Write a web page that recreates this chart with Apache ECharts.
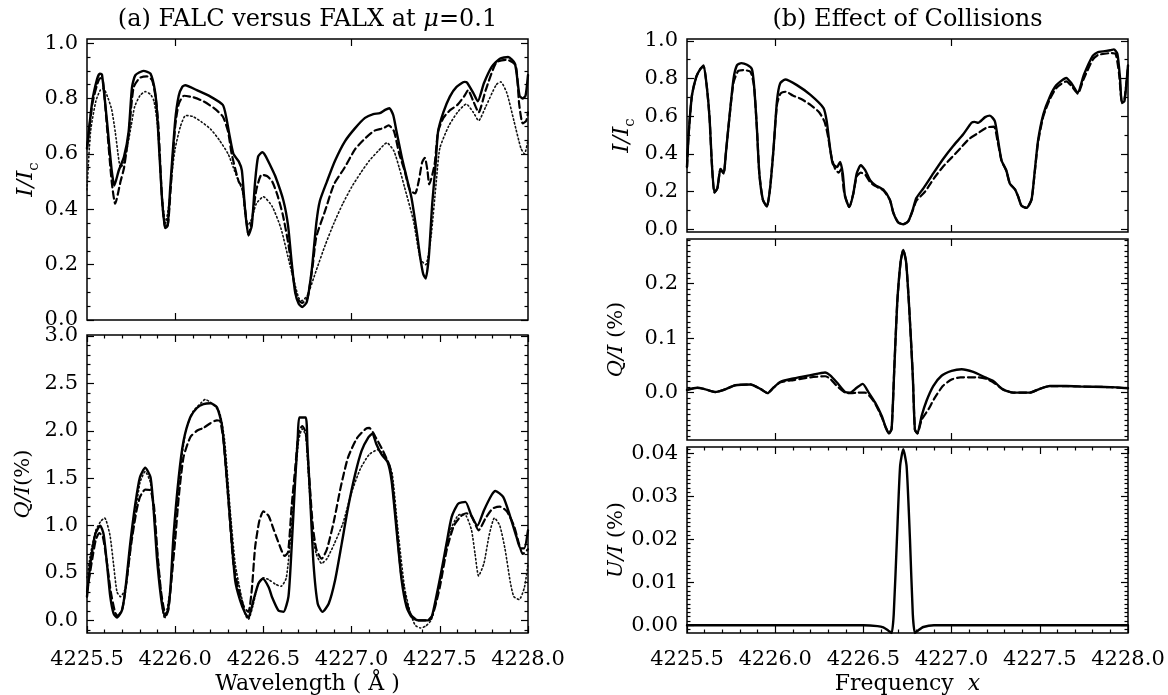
<!DOCTYPE html>
<html><head><meta charset="utf-8">
<script src="https://cdn.jsdelivr.net/npm/echarts@6/dist/echarts.min.js"></script>
<style>html,body{margin:0;padding:0;background:#fff}#c{width:1168px;height:695px}</style>
</head><body><div id="c"></div>
<script>
// ---------------- DATA ----------------
// x tick labels (wavelength, Å)
const xTickLabels = [4225.5, 4226.0, 4226.5, 4227.0, 4227.5, 4228.0];
const xTickSparse = [4226.0, 4227.0];
// y tick labels per panel
const yTicksIa = [0.0, 0.2, 0.4, 0.6, 0.8, 1.0];
const yTicksQa = [0.0, 0.5, 1.0, 1.5, 2.0, 2.5, 3.0];
const yTicksIb = [0.0, 0.2, 0.4, 0.6, 0.8, 1.0];
const yTicksQb = [0.0, 0.1, 0.2];
const yTicksUb = [0.00, 0.01, 0.02, 0.03, 0.04];

// (a) I/Ic : FALC (solid), FALX (dashed), third model (dotted)
const aI_solid = [[4225.50,0.62],[4225.53,0.79],[4225.557,0.87],[4225.572,0.89],[4225.585,0.886],[4225.613,0.72],[4225.64,0.54],[4225.655,0.486],[4225.68,0.54],[4225.71,0.59],[4225.736,0.68],[4225.755,0.84],[4225.774,0.884],[4225.82,0.90],[4225.86,0.89],[4225.887,0.82],[4225.90,0.72],[4225.925,0.44],[4225.943,0.332],[4225.957,0.34],[4225.972,0.48],[4226.0,0.72],[4226.02,0.81],[4226.04,0.842],[4226.057,0.848],[4226.123,0.83],[4226.20,0.807],[4226.27,0.777],[4226.29,0.73],[4226.31,0.66],[4226.33,0.60],[4226.36,0.573],[4226.378,0.54],[4226.396,0.40],[4226.415,0.305],[4226.434,0.34],[4226.453,0.50],[4226.47,0.59],[4226.494,0.606],[4226.51,0.595],[4226.538,0.56],[4226.567,0.52],[4226.614,0.43],[4226.64,0.34],[4226.66,0.21],[4226.68,0.10],[4226.70,0.059],[4226.72,0.047],[4226.746,0.065],[4226.774,0.18],[4226.80,0.35],[4226.82,0.43],[4226.86,0.50],[4226.906,0.575],[4226.963,0.646],[4227.02,0.693],[4227.076,0.73],[4227.123,0.744],[4227.16,0.747],[4227.19,0.759],[4227.214,0.765],[4227.236,0.74],[4227.255,0.68],[4227.284,0.59],[4227.31,0.52],[4227.34,0.44],[4227.37,0.315],[4227.388,0.23],[4227.406,0.166],[4227.42,0.15],[4227.438,0.23],[4227.457,0.42],[4227.476,0.56],[4227.49,0.68],[4227.52,0.75],[4227.557,0.807],[4227.595,0.842],[4227.64,0.86],[4227.654,0.858],[4227.69,0.82],[4227.715,0.79],[4227.75,0.855],[4227.795,0.915],[4227.84,0.944],[4227.887,0.95],[4227.926,0.926],[4227.952,0.81],[4227.97,0.80],[4227.986,0.81],[4228.0,0.885]];
const aI_dash = [[4225.5,0.62],[4225.53,0.78],[4225.557,0.85],[4225.575,0.874],[4225.59,0.865],[4225.613,0.70],[4225.64,0.50],[4225.66,0.42],[4225.69,0.50],[4225.71,0.55],[4225.736,0.67],[4225.764,0.84],[4225.80,0.875],[4225.84,0.88],[4225.87,0.865],[4225.89,0.80],[4225.905,0.70],[4225.925,0.44],[4225.945,0.33],[4225.96,0.35],[4225.975,0.48],[4226.0,0.70],[4226.02,0.78],[4226.05,0.81],[4226.10,0.805],[4226.16,0.79],[4226.22,0.765],[4226.27,0.735],[4226.30,0.68],[4226.32,0.60],[4226.36,0.50],[4226.38,0.48],[4226.40,0.38],[4226.415,0.31],[4226.435,0.36],[4226.46,0.47],[4226.49,0.525],[4226.52,0.52],[4226.55,0.50],[4226.58,0.45],[4226.61,0.38],[4226.64,0.28],[4226.67,0.15],[4226.69,0.08],[4226.72,0.062],[4226.75,0.08],[4226.78,0.20],[4226.80,0.30],[4226.85,0.395],[4226.90,0.49],[4226.96,0.55],[4227.02,0.617],[4227.08,0.658],[4227.13,0.684],[4227.18,0.693],[4227.21,0.703],[4227.24,0.682],[4227.27,0.60],[4227.30,0.54],[4227.33,0.47],[4227.36,0.457],[4227.38,0.50],[4227.40,0.57],[4227.415,0.586],[4227.43,0.54],[4227.44,0.49],[4227.47,0.56],[4227.49,0.68],[4227.52,0.73],[4227.56,0.759],[4227.60,0.777],[4227.64,0.81],[4227.66,0.83],[4227.69,0.79],[4227.72,0.75],[4227.76,0.83],[4227.82,0.93],[4227.88,0.94],[4227.93,0.92],[4227.95,0.78],[4227.97,0.71],[4227.99,0.72],[4228.0,0.75]];
const aI_dot = [[4225.5,0.47],[4225.52,0.68],[4225.55,0.79],[4225.575,0.83],[4225.594,0.836],[4225.62,0.80],[4225.64,0.76],[4225.66,0.68],[4225.68,0.58],[4225.69,0.55],[4225.71,0.57],[4225.73,0.63],[4225.75,0.70],[4225.77,0.77],[4225.80,0.81],[4225.83,0.825],[4225.86,0.815],[4225.88,0.79],[4225.90,0.70],[4225.925,0.45],[4225.945,0.35],[4225.965,0.42],[4225.985,0.55],[4226.0,0.62],[4226.03,0.70],[4226.06,0.739],[4226.10,0.735],[4226.15,0.715],[4226.20,0.69],[4226.25,0.65],[4226.30,0.60],[4226.33,0.55],[4226.36,0.50],[4226.38,0.47],[4226.41,0.34],[4226.43,0.36],[4226.46,0.42],[4226.50,0.445],[4226.55,0.41],[4226.60,0.33],[4226.65,0.20],[4226.70,0.08],[4226.72,0.07],[4226.75,0.09],[4226.80,0.18],[4226.85,0.27],[4226.90,0.35],[4226.95,0.42],[4227.0,0.48],[4227.05,0.53],[4227.10,0.575],[4227.15,0.61],[4227.20,0.64],[4227.24,0.61],[4227.27,0.55],[4227.30,0.48],[4227.35,0.36],[4227.39,0.22],[4227.42,0.20],[4227.45,0.30],[4227.48,0.50],[4227.50,0.62],[4227.55,0.70],[4227.60,0.75],[4227.65,0.78],[4227.69,0.75],[4227.72,0.72],[4227.76,0.77],[4227.82,0.85],[4227.845,0.86],[4227.88,0.82],[4227.92,0.72],[4227.96,0.62],[4227.98,0.60],[4228.0,0.65]];

// (a) Q/I (%)
const aQ_solid = [[4225.5,0.25],[4225.519,0.6],[4225.547,0.91],[4225.575,1.0],[4225.594,0.91],[4225.613,0.6],[4225.632,0.25],[4225.651,0.07],[4225.67,0.03],[4225.698,0.105],[4225.717,0.32],[4225.745,0.81],[4225.774,1.23],[4225.80,1.51],[4225.83,1.61],[4225.86,1.51],[4225.877,1.19],[4225.896,0.67],[4225.919,0.25],[4225.938,0.06],[4225.953,0.06],[4225.972,0.32],[4225.99,0.88],[4226.02,1.51],[4226.047,1.89],[4226.085,2.14],[4226.123,2.24],[4226.16,2.28],[4226.20,2.29],[4226.236,2.25],[4226.264,2.07],[4226.283,1.72],[4226.31,1.09],[4226.34,0.42],[4226.368,0.21],[4226.396,0.077],[4226.415,0.03],[4226.443,0.21],[4226.472,0.39],[4226.496,0.44],[4226.53,0.35],[4226.548,0.25],[4226.585,0.105],[4226.614,0.09],[4226.642,0.25],[4226.66,0.77],[4226.68,1.47],[4226.695,1.93],[4226.704,2.14],[4226.74,2.14],[4226.75,1.82],[4226.765,1.3],[4226.784,0.6],[4226.808,0.175],[4226.835,0.09],[4226.87,0.175],[4226.906,0.42],[4226.944,0.81],[4226.98,1.19],[4227.02,1.54],[4227.057,1.79],[4227.095,1.93],[4227.118,1.97],[4227.14,1.86],[4227.17,1.75],[4227.204,1.67],[4227.227,1.47],[4227.255,0.95],[4227.284,0.42],[4227.312,0.14],[4227.34,0.035],[4227.378,0.0],[4227.435,0.0],[4227.454,0.035],[4227.48,0.25],[4227.51,0.53],[4227.538,0.81],[4227.567,1.09],[4227.604,1.23],[4227.645,1.25],[4227.68,1.1],[4227.713,1.0],[4227.75,1.16],[4227.793,1.32],[4227.815,1.365],[4227.86,1.3],[4227.90,1.09],[4227.935,0.88],[4227.957,0.76],[4227.978,0.76],[4228.0,0.95]];
const aQ_dash = [[4225.5,0.3],[4225.53,0.65],[4225.55,0.85],[4225.57,0.92],[4225.59,0.88],[4225.61,0.65],[4225.635,0.3],[4225.66,0.08],[4225.675,0.05],[4225.70,0.12],[4225.72,0.35],[4225.75,0.8],[4225.78,1.15],[4225.80,1.3],[4225.83,1.38],[4225.86,1.37],[4225.88,1.2],[4225.90,0.7],[4225.92,0.3],[4225.945,0.07],[4225.96,0.1],[4225.975,0.35],[4226.0,0.85],[4226.02,1.3],[4226.047,1.72],[4226.085,1.93],[4226.123,2.0],[4226.16,2.03],[4226.20,2.08],[4226.236,2.11],[4226.255,2.1],[4226.274,1.89],[4226.30,1.3],[4226.33,0.6],[4226.36,0.32],[4226.39,0.14],[4226.415,0.09],[4226.434,0.32],[4226.453,0.77],[4226.477,1.05],[4226.50,1.15],[4226.53,1.1],[4226.56,0.95],[4226.60,0.75],[4226.62,0.68],[4226.64,0.72],[4226.66,1.2],[4226.68,1.6],[4226.70,1.98],[4226.72,2.05],[4226.74,1.98],[4226.76,1.5],[4226.78,1.0],[4226.80,0.75],[4226.83,0.65],[4226.86,0.75],[4226.90,1.05],[4226.94,1.42],[4226.98,1.72],[4227.03,1.92],[4227.08,2.02],[4227.10,2.03],[4227.14,1.92],[4227.18,1.78],[4227.22,1.6],[4227.25,1.1],[4227.28,0.5],[4227.31,0.2],[4227.34,0.05],[4227.38,0.0],[4227.43,0.0],[4227.46,0.06],[4227.50,0.35],[4227.54,0.75],[4227.58,1.0],[4227.62,1.1],[4227.65,1.13],[4227.68,1.1],[4227.72,0.95],[4227.76,1.08],[4227.80,1.18],[4227.84,1.2],[4227.88,1.15],[4227.92,1.0],[4227.95,0.8],[4227.97,0.7],[4228.0,0.75]];
const aQ_dot = [[4225.5,0.45],[4225.52,0.7],[4225.55,0.95],[4225.58,1.05],[4225.60,1.08],[4225.63,0.9],[4225.65,0.6],[4225.67,0.3],[4225.69,0.25],[4225.72,0.35],[4225.75,0.8],[4225.80,1.45],[4225.83,1.57],[4225.86,1.45],[4225.90,0.7],[4225.93,0.1],[4225.94,0.02],[4225.97,0.3],[4226.0,1.0],[4226.03,1.6],[4226.06,2.0],[4226.10,2.2],[4226.15,2.3],[4226.17,2.33],[4226.20,2.3],[4226.25,2.2],[4226.28,1.9],[4226.31,1.2],[4226.34,0.6],[4226.37,0.3],[4226.40,0.05],[4226.415,0.01],[4226.44,0.15],[4226.47,0.38],[4226.50,0.45],[4226.53,0.43],[4226.57,0.38],[4226.60,0.36],[4226.63,0.45],[4226.66,1.0],[4226.68,1.5],[4226.70,1.9],[4226.72,2.02],[4226.74,1.95],[4226.76,1.4],[4226.78,0.9],[4226.80,0.7],[4226.83,0.6],[4226.86,0.65],[4226.90,0.8],[4226.95,1.02],[4227.0,1.35],[4227.05,1.6],[4227.10,1.75],[4227.15,1.8],[4227.20,1.7],[4227.23,1.55],[4227.26,1.0],[4227.30,0.35],[4227.33,0.1],[4227.36,-0.05],[4227.39,-0.08],[4227.42,-0.06],[4227.45,0.0],[4227.48,0.2],[4227.52,0.6],[4227.56,0.95],[4227.60,1.1],[4227.62,1.12],[4227.65,1.1],[4227.68,0.95],[4227.70,0.7],[4227.72,0.47],[4227.75,0.6],[4227.78,0.9],[4227.81,1.08],[4227.84,1.0],[4227.87,0.75],[4227.90,0.4],[4227.92,0.25],[4227.95,0.22],[4227.98,0.35],[4228.0,0.6]];

// (b) I/Ic : with collisions (solid), without (dashed)
const bI_solid = [[4225.5,0.33],[4225.509,0.5],[4225.528,0.71],[4225.553,0.81],[4225.575,0.85],[4225.594,0.87],[4225.613,0.75],[4225.628,0.59],[4225.64,0.365],[4225.655,0.195],[4225.672,0.217],[4225.69,0.32],[4225.708,0.296],[4225.72,0.4],[4225.74,0.59],[4225.764,0.8],[4225.783,0.87],[4225.808,0.882],[4225.84,0.873],[4225.868,0.85],[4225.88,0.765],[4225.896,0.54],[4225.91,0.296],[4225.93,0.157],[4225.953,0.12],[4225.97,0.21],[4225.99,0.42],[4226.01,0.68],[4226.028,0.774],[4226.057,0.795],[4226.123,0.765],[4226.20,0.713],[4226.274,0.643],[4226.292,0.574],[4226.308,0.452],[4226.326,0.348],[4226.35,0.33],[4226.368,0.357],[4226.383,0.296],[4226.396,0.174],[4226.42,0.118],[4226.443,0.19],[4226.462,0.296],[4226.485,0.34],[4226.51,0.313],[4226.538,0.26],[4226.566,0.235],[4226.613,0.21],[4226.65,0.157],[4226.67,0.087],[4226.698,0.035],[4226.726,0.026],[4226.755,0.043],[4226.78,0.104],[4226.80,0.165],[4226.84,0.217],[4226.896,0.296],[4226.953,0.374],[4227.01,0.443],[4227.066,0.504],[4227.113,0.565],[4227.13,0.57],[4227.15,0.565],[4227.19,0.595],[4227.217,0.603],[4227.245,0.574],[4227.264,0.47],[4227.283,0.365],[4227.31,0.313],[4227.33,0.243],[4227.36,0.21],[4227.377,0.174],[4227.396,0.125],[4227.425,0.113],[4227.453,0.157],[4227.47,0.296],[4227.49,0.47],[4227.52,0.61],[4227.557,0.704],[4227.594,0.765],[4227.65,0.803],[4227.68,0.774],[4227.715,0.725],[4227.75,0.82],[4227.80,0.92],[4227.83,0.94],[4227.90,0.95],[4227.92,0.955],[4227.94,0.93],[4227.955,0.80],[4227.965,0.67],[4227.98,0.68],[4228.0,0.87]];
const bI_dash = [[4225.5,0.33],[4225.509,0.5],[4225.528,0.71],[4225.553,0.81],[4225.575,0.85],[4225.594,0.865],[4225.613,0.75],[4225.628,0.59],[4225.64,0.365],[4225.655,0.195],[4225.672,0.217],[4225.69,0.32],[4225.708,0.296],[4225.72,0.4],[4225.74,0.59],[4225.764,0.78],[4225.79,0.84],[4225.82,0.845],[4225.86,0.835],[4225.88,0.76],[4225.896,0.54],[4225.91,0.296],[4225.93,0.157],[4225.953,0.12],[4225.97,0.21],[4225.99,0.42],[4226.01,0.66],[4226.03,0.72],[4226.06,0.73],[4226.10,0.71],[4226.15,0.69],[4226.20,0.66],[4226.25,0.62],[4226.28,0.57],[4226.30,0.49],[4226.32,0.38],[4226.34,0.32],[4226.36,0.30],[4226.375,0.32],[4226.39,0.2],[4226.42,0.118],[4226.443,0.19],[4226.462,0.28],[4226.485,0.30],[4226.51,0.29],[4226.538,0.25],[4226.566,0.23],[4226.613,0.205],[4226.65,0.155],[4226.67,0.087],[4226.698,0.035],[4226.726,0.026],[4226.755,0.043],[4226.78,0.1],[4226.80,0.15],[4226.85,0.2],[4226.90,0.27],[4226.95,0.33],[4227.0,0.38],[4227.05,0.43],[4227.10,0.48],[4227.15,0.51],[4227.20,0.54],[4227.24,0.545],[4227.26,0.47],[4227.283,0.365],[4227.31,0.31],[4227.33,0.243],[4227.36,0.21],[4227.377,0.174],[4227.396,0.125],[4227.425,0.113],[4227.453,0.157],[4227.47,0.29],[4227.49,0.46],[4227.52,0.60],[4227.557,0.69],[4227.594,0.75],[4227.65,0.785],[4227.68,0.76],[4227.715,0.72],[4227.75,0.80],[4227.80,0.90],[4227.83,0.925],[4227.90,0.935],[4227.93,0.93],[4227.95,0.82],[4227.965,0.68],[4227.98,0.69],[4228.0,0.86]];

// (b) Q/I (%)
const bQ_solid = [[4225.5,0.005],[4225.557,0.009],[4225.594,0.007],[4225.66,0.001],[4225.708,0.005],[4225.774,0.0135],[4225.86,0.015],[4225.915,0.007],[4225.957,-0.001],[4225.99,0.009],[4226.03,0.02],[4226.104,0.026],[4226.2,0.032],[4226.283,0.037],[4226.31,0.032],[4226.35,0.0185],[4226.396,0.001],[4226.425,0.0],[4226.462,0.009],[4226.496,0.016],[4226.53,0.0],[4226.566,-0.018],[4226.604,-0.043],[4226.628,-0.065],[4226.645,-0.075],[4226.66,-0.066],[4226.675,0.043],[4226.692,0.166],[4226.711,0.24],[4226.726,0.262],[4226.742,0.24],[4226.76,0.154],[4226.78,0.031],[4226.792,-0.068],[4226.806,-0.075],[4226.83,-0.043],[4226.858,-0.015],[4226.896,0.012],[4226.943,0.031],[4227.0,0.04],[4227.057,0.043],[4227.123,0.038],[4227.19,0.028],[4227.236,0.0215],[4227.29,0.006],[4227.35,0.0],[4227.443,0.0],[4227.5,0.007],[4227.557,0.012],[4227.65,0.012],[4227.75,0.011],[4227.9,0.01],[4228.0,0.008]];
const bQ_dash = [[4225.5,0.005],[4225.557,0.009],[4225.594,0.007],[4225.66,0.001],[4225.708,0.005],[4225.774,0.0135],[4225.86,0.015],[4225.915,0.007],[4225.957,-0.001],[4225.99,0.009],[4226.03,0.019],[4226.104,0.023],[4226.2,0.028],[4226.283,0.03],[4226.31,0.026],[4226.35,0.012],[4226.396,0.0],[4226.43,-0.001],[4226.47,0.0],[4226.51,0.0],[4226.54,-0.008],[4226.57,-0.022],[4226.604,-0.045],[4226.628,-0.065],[4226.645,-0.075],[4226.66,-0.066],[4226.675,0.043],[4226.692,0.166],[4226.711,0.24],[4226.726,0.262],[4226.742,0.24],[4226.76,0.154],[4226.78,0.031],[4226.792,-0.068],[4226.806,-0.075],[4226.83,-0.05],[4226.87,-0.03],[4226.9,-0.012],[4226.95,0.012],[4227.0,0.024],[4227.05,0.028],[4227.15,0.028],[4227.2,0.025],[4227.24,0.018],[4227.29,0.006],[4227.35,0.0],[4227.443,0.0],[4227.5,0.007],[4227.557,0.012],[4227.65,0.012],[4227.75,0.011],[4227.9,0.01],[4228.0,0.008]];

// (b) U/I (%)
const bU_solid = [[4225.5,0.0],[4226.0,0.0],[4226.5,0.0],[4226.58,-0.0002],[4226.613,-0.0005],[4226.64,-0.0012],[4226.66,-0.0018],[4226.672,0.0026],[4226.69,0.02],[4226.708,0.037],[4226.726,0.041],[4226.745,0.037],[4226.764,0.02],[4226.78,0.0026],[4226.792,-0.0018],[4226.81,-0.0012],[4226.84,-0.0004],[4226.9,0.0],[4227.5,0.0],[4228.0,0.0]];

// ---------------- LAYOUT / STYLE ----------------
const FONT = 'DejaVu Serif';
const XMIN = 4225.5, XMAX = 4228.0;
function steps(a, b, s) {
  const r = [];
  for (let k = Math.round(a / s); k * s <= b + 1e-9; k++) r.push(+(k * s).toFixed(6));
  return r;
}
function minorOf(major, a, b, s) {
  return steps(a, b, s).filter(v => !major.some(m => Math.abs(m - v) < 1e-9));
}
const SOLID = {color:'#000', width:2.4, type:'solid'};
const DASH  = {color:'#000', width:2.2, type:[7,4]};
const DOT   = {color:'#111', width:1.6, type:[1.4,2.6]};

const panels = [
  {rect:[87,39,441,281], y:[0,1.015], yMajor:yTicksIa, yMinor:minorOf(yTicksIa,0,1,0.05), dec:1,
   xMajor:xTickSparse, xMinor:[], xLab:false,
   series:[[aI_dot,DOT],[aI_dash,DASH],[aI_solid,SOLID]]},
  {rect:[87,335,441,298], y:[-0.133,3.01], yMajor:yTicksQa, yMinor:minorOf(yTicksQa,-0.1,3.0,0.1), dec:1,
   xMajor:xTickLabels, xMinor:minorOf(xTickLabels,XMIN,XMAX,0.1), xLab:true,
   series:[[aQ_dot,DOT],[aQ_dash,DASH],[aQ_solid,SOLID]]},
  {rect:[687,39,441,193], y:[-0.015,1.01], yMajor:yTicksIb, yMinor:minorOf(yTicksIb,0,1,0.1), dec:1,
   xMajor:xTickSparse, xMinor:[], xLab:false,
   series:[[bI_dash,DASH],[bI_solid,SOLID]]},
  {rect:[687,239,441,201], y:[-0.087,0.282], yMajor:yTicksQb, yMinor:minorOf(yTicksQb,-0.08,0.28,0.01), dec:1,
   xMajor:xTickSparse, xMinor:[], xLab:false,
   series:[[bQ_dash,DASH],[bQ_solid,SOLID]]},
  {rect:[687,447,441,186], y:[-0.0018,0.0415], yMajor:yTicksUb, yMinor:minorOf(yTicksUb,-0.001,0.041,0.001), dec:2,
   xMajor:xTickLabels, xMinor:minorOf(xTickLabels,XMIN,XMAX,0.1), xLab:true,
   series:[[bU_solid,SOLID]]}
];

const grid = [], xAxis = [], yAxis = [], series = [];
const tickLine = {color:'#000', width:1.2};
const LABEL_SIZE = 21;
panels.forEach((p, i) => {
  const [l, t, w, h] = p.rect;
  grid.push({left:l, top:t, width:w, height:h, show:true, borderColor:'#000', borderWidth:1.5, backgroundColor:'transparent'});
  grid.push({left:l, top:t, width:w, height:h, show:false});
  const gMaj = 2 * i, gMin = 2 * i + 1;
  const xBase = {type:'value', min:XMIN, max:XMAX, axisLine:{show:false, onZero:false}, splitLine:{show:false}};
  const yBase = {type:'value', min:p.y[0], max:p.y[1], axisLine:{show:false, onZero:false}, splitLine:{show:false}};
  const xMin = p.xMinor.length ? p.xMinor : [XMIN];
  xAxis.push(Object.assign({}, xBase, {gridIndex:gMaj, position:'bottom',
    axisTick:{show:true, inside:true, length:7, customValues:p.xMajor, lineStyle:tickLine},
    axisLabel:{show:p.xLab, customValues:xTickLabels, formatter:v => v.toFixed(1), margin:16,
      fontFamily:FONT, fontSize:LABEL_SIZE, color:'#000'}}));
  xAxis.push(Object.assign({}, xBase, {gridIndex:gMaj, position:'top',
    axisTick:{show:true, inside:true, length:7, customValues:p.xMajor, lineStyle:tickLine},
    axisLabel:{show:false}}));
  xAxis.push(Object.assign({}, xBase, {gridIndex:gMin, position:'bottom',
    axisTick:{show:p.xMinor.length > 0, inside:true, length:3.5, customValues:xMin, lineStyle:tickLine},
    axisLabel:{show:false}}));
  xAxis.push(Object.assign({}, xBase, {gridIndex:gMin, position:'top',
    axisTick:{show:p.xMinor.length > 0, inside:true, length:3.5, customValues:xMin, lineStyle:tickLine},
    axisLabel:{show:false}}));
  yAxis.push(Object.assign({}, yBase, {gridIndex:gMaj, position:'left',
    axisTick:{show:true, inside:true, length:7, customValues:p.yMajor, lineStyle:tickLine},
    axisLabel:{show:true, customValues:p.yMajor, formatter:v => v.toFixed(p.dec), margin:9,
      fontFamily:FONT, fontSize:LABEL_SIZE, color:'#000'}}));
  yAxis.push(Object.assign({}, yBase, {gridIndex:gMaj, position:'right',
    axisTick:{show:true, inside:true, length:7, customValues:p.yMajor, lineStyle:tickLine},
    axisLabel:{show:false}}));
  yAxis.push(Object.assign({}, yBase, {gridIndex:gMin, position:'left',
    axisTick:{show:true, inside:true, length:3.5, customValues:p.yMinor, lineStyle:tickLine},
    axisLabel:{show:false}}));
  yAxis.push(Object.assign({}, yBase, {gridIndex:gMin, position:'right',
    axisTick:{show:true, inside:true, length:3.5, customValues:p.yMinor, lineStyle:tickLine},
    axisLabel:{show:false}}));
  p.series.forEach(([data, ls], k) => {
    series.push({type:'line', xAxisIndex:4 * i, yAxisIndex:4 * i, data:data,
      showSymbol:false, symbol:'none', smooth:0.2, clip:true, z:2 + k,
      lineStyle:Object.assign({cap:'round', join:'round'}, ls), silent:true});
  });
});

function txt(x, y, text, rich, rot, size) {
  const r = {};
  Object.keys(rich || {}).forEach(k => { r[k] = Object.assign({fontFamily:FONT}, rich[k]); });
  return {type:'text', x:x, y:y, rotation:rot || 0, silent:true, z:100,
    style:{text:text, fontFamily:FONT, fontSize:size || 21, fill:'#000', align:'center', verticalAlign:'middle', rich:r}};
}
const itl = {fontStyle:'italic', fontSize:21};
const itl22 = {fontStyle:'italic', fontSize:22};
const itlT = {fontStyle:'italic', fontSize:24};
const subRich = {m:{fontStyle:'italic', fontSize:23, lineHeight:32, verticalAlign:'middle'},
                 s:{fontSize:15, lineHeight:32, verticalAlign:'bottom'}};
const graphic = [
  txt(307.5, 20, '(a) FALC versus FALX at {i|μ}=0.1', {i:itlT}, 0, 24),
  txt(907.5, 20, '(b) Effect of Collisions', {}, 0, 24),
  txt(307.5, 684, 'Wavelength ( Å )', {}, 0, 22),
  txt(907.5, 684, 'Frequency  {i|x}', {i:itl22}, 0, 22),
  txt(26, 179.5, '{m|I/I}{s|c}', subRich, Math.PI / 2),
  txt(24, 484, '{i|Q/I}(%)', {i:itl}, Math.PI / 2),
  txt(622, 135.5, '{m|I/I}{s|c}', subRich, Math.PI / 2),
  txt(617, 339.5, '{i|Q/I} (%)', {i:itl}, Math.PI / 2),
  txt(617, 540, '{i|U/I} (%)', {i:itl}, Math.PI / 2)
];

const chart = echarts.init(document.getElementById('c'), null, {renderer:'canvas'});
chart.setOption({animation:false, backgroundColor:'#fff', grid, xAxis, yAxis, series, graphic});
</script></body></html>
